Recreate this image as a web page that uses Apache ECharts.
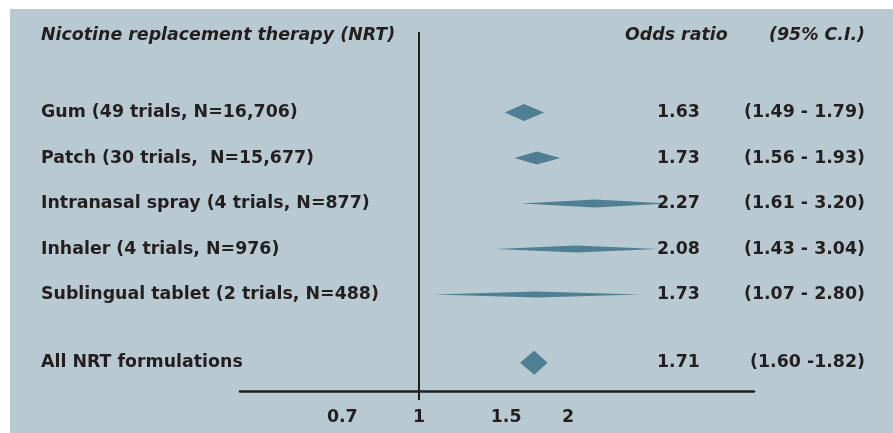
<!DOCTYPE html>
<html>
<head>
<meta charset="utf-8">
<script src="https://cdn.jsdelivr.net/npm/echarts@6/dist/echarts.min.js"></script>
<style>
  html, body { margin: 0; background: #fff; }
  #chart { width: 893px; height: 433px; }
</style>
</head>
<body>
<div id="chart"></div>
<script>
// data
const categories = [
  "Gum (49 trials, N=16,706)",
  "Patch (30 trials,  N=15,677)",
  "Intranasal spray (4 trials, N=877)",
  "Inhaler (4 trials, N=976)",
  "Sublingual tablet (2 trials, N=488)",
  "All NRT formulations"
];
const oddsRatio = [1.63, 1.73, 2.27, 2.08, 1.73, 1.71];
const ciLow = [1.49, 1.56, 1.61, 1.43, 1.07, 1.60];
const ciHigh = [1.79, 1.93, 3.20, 3.04, 2.80, 1.82];
const ciLabels = ["(1.49 - 1.79)", "(1.56 - 1.93)", "(1.61 - 3.20)", "(1.43 - 3.04)", "(1.07 - 2.80)", "(1.60 -1.82)"];
const tickValues = [0.7, 1, 1.5, 2];

// layout / style
const rowSlot = [0, 1, 2, 3, 4, 5.5];
const diamondHalf = [8.5, 6.5, 4, 3.5, 3, 12];
const ink = "#231f20";
const fill = "#4e7f93";
const bg = "#b9c9d2";
const FONT = "DejaVu Sans";

const chart = echarts.init(document.getElementById("chart"));

const rows = categories.map((c, i) => [oddsRatio[i], rowSlot[i], ciLow[i], ciHigh[i], i]);

const renderRow = (params, api) => {
  const i = api.value(4);
  const y = api.coord([1, api.value(1)])[1];
  const pLo = api.coord([api.value(2), api.value(1)]);
  const pHi = api.coord([api.value(3), api.value(1)]);
  const pMid = api.coord([api.value(0), api.value(1)]);
  const h = diamondHalf[i];
  const font = "bold 17.4px '" + FONT + "'";
  return {
    type: "group",
    children: [
      {
        type: "polygon",
        shape: { points: [[pLo[0], y], [pMid[0], y - h], [pHi[0], y], [pMid[0], y + h]] },
        style: { fill: fill }
      },
      {
        type: "text",
        style: { x: 41, y: y, text: categories[i], font: font, fill: ink, align: "left", verticalAlign: "middle" }
      },
      {
        type: "text",
        style: { x: 657, y: y, text: oddsRatio[i].toFixed(2), font: font, fill: ink, align: "left", verticalAlign: "middle" }
      },
      {
        type: "text",
        style: { x: 865, y: y, text: ciLabels[i], font: font, fill: ink, align: "right", verticalAlign: "middle" }
      }
    ]
  };
};

const headFont = "italic bold 17.4px '" + FONT + "'";

const option = {
  backgroundColor: "#fff",
  animation: false,
  graphic: [
    { type: "rect", z: -100, shape: { x: 10, y: 9, width: 883, height: 424 }, style: { fill: bg } },
    { type: "text", x: 41, y: 35, style: { text: "Nicotine replacement therapy (NRT)", font: headFont, fill: ink, align: "left", verticalAlign: "middle" } },
    { type: "text", x: 625, y: 35, style: { text: "Odds ratio", font: headFont, fill: ink, align: "left", verticalAlign: "middle" } },
    { type: "text", x: 865, y: 35, style: { text: "(95% C.I.)", font: headFont, fill: ink, align: "right", verticalAlign: "middle" } }
  ],
  grid: { left: 240, right: 139, top: 32, bottom: 42 },
  xAxis: {
    type: "log",
    logBase: 10,
    min: 0.4349,
    max: 4.7527,
    splitLine: { show: false },
    minorTick: { show: false },
    axisLine: { show: true, onZero: false, lineStyle: { color: ink, width: 2.5 } },
    axisTick: { show: true, customValues: [1], length: 9, lineStyle: { color: ink, width: 2 } },
    axisLabel: {
      customValues: tickValues,
      margin: 18,
      color: ink,
      fontFamily: FONT,
      fontWeight: "bold",
      fontSize: 17.4,
      formatter: (v) => String(v)
    }
  },
  yAxis: {
    type: "value",
    inverse: true,
    min: -1.77,
    max: 6.12,
    show: false
  },
  series: [
    {
      type: "custom",
      clip: false,
      renderItem: renderRow,
      data: rows,
      encode: { x: [0, 2, 3], y: 1 },
      markLine: {
        silent: true,
        symbol: ["none", "none"],
        label: { show: false },
        lineStyle: { type: "solid", color: ink, width: 2 },
        data: [{ xAxis: 1 }]
      }
    }
  ]
};

chart.setOption(option);
</script>
</body>
</html>
